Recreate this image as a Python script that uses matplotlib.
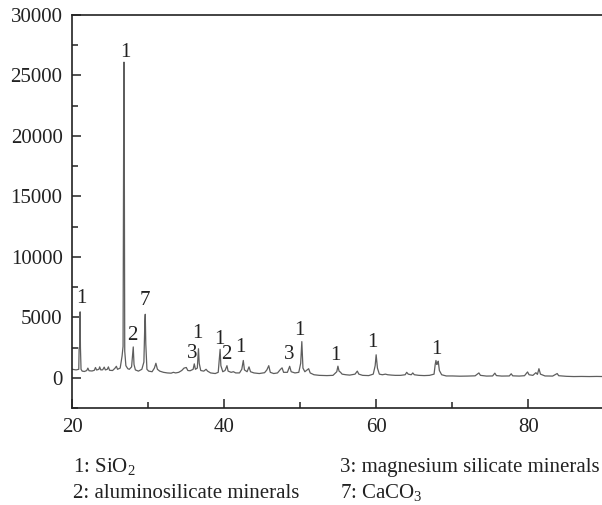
import matplotlib
matplotlib.use("Agg")
import matplotlib.pyplot as plt
from matplotlib.ticker import MultipleLocator

plt.rcParams['font.family'] = ['Liberation Serif', 'DejaVu Serif']
plt.rcParams['mathtext.fontset'] = 'custom'
plt.rcParams['mathtext.rm'] = 'Liberation Serif'
plt.rcParams['mathtext.it'] = 'Liberation Serif:italic'

# XRD pattern: 2-theta (deg) and intensity (counts)
two_theta = [
    20.0, 20.5, 20.85, 20.9, 20.98, 21.03, 21.07, 21.15, 21.3, 21.6, 21.9, 22.05, 22.2,
    22.6, 22.9, 23.05, 23.2, 23.5, 23.6, 23.75, 24.0, 24.2, 24.35, 24.6, 24.75, 24.9,
    25.3, 25.6, 25.8, 25.95, 26.3, 26.55, 26.68, 26.76, 26.8, 26.84, 26.9, 27.05, 27.3,
    27.5, 27.8, 28.02, 28.12, 28.3, 28.7, 29.15, 29.42, 29.55, 29.6, 29.67, 29.82, 30.05,
    30.5, 30.8, 31.0, 31.2, 31.5, 32.0, 32.5, 33.0, 33.3, 33.6, 34.0, 34.4, 34.7, 35.0,
    35.2, 35.5, 35.9, 36.05, 36.2, 36.45, 36.6, 36.7, 36.9, 37.3, 37.6, 37.8, 38.2,
    38.8, 39.2, 39.45, 39.55, 39.8, 40.1, 40.35, 40.5, 40.9, 41.2, 41.5, 42.0, 42.3,
    42.5, 42.65, 43.0, 43.25, 43.45, 43.9, 44.6, 45.3, 45.6, 45.85, 46.05, 46.5, 47.0,
    47.4, 47.6, 47.8, 48.3, 48.6, 48.8, 49.3, 49.8, 50.05, 50.2, 50.35, 50.6, 50.9,
    51.1, 51.3, 51.8, 52.5, 53.5, 54.3, 54.8, 54.95, 55.1, 55.3, 55.5, 56.0, 56.5,
    57.2, 57.5, 57.7, 58.2, 59.0, 59.6, 59.85, 59.98, 60.15, 60.4, 60.8, 61.2, 61.5,
    62.0, 62.5, 63.2, 63.8, 64.0, 64.2, 64.6, 64.8, 65.0, 65.6, 66.3, 67.0, 67.6,
    67.75, 67.85, 67.95, 68.05, 68.15, 68.3, 68.6, 69.2, 70.0, 71.0, 72.0, 73.0, 73.5,
    73.7, 74.5, 75.3, 75.6, 75.8, 76.5, 77.5, 77.75, 77.95, 78.8, 79.5, 79.9, 80.1,
    80.6, 81.0, 81.2, 81.4, 81.6, 82.2, 83.2, 83.8, 84.0, 85.0, 86.0, 87.0, 88.0,
    89.0, 90.0,
]
intensity = [
    700, 650, 700, 2500, 2500, 5450, 2500, 700, 550, 520, 600, 800, 580,
    560, 620, 850, 640, 700, 900, 650, 660, 880, 650, 700, 900, 620,
    600, 780, 950, 700, 800, 1800, 2600, 20800, 26100, 19600, 2200, 1000, 750,
    700, 900, 2550, 1100, 650, 550, 700, 1300, 4700, 5250, 2800, 700, 550,
    500, 800, 1200, 700, 550, 450, 400, 380, 450, 400, 450, 600, 800, 850,
    600, 580, 700, 1150, 700, 800, 2400, 1200, 600, 550, 700, 550, 400,
    350, 450, 2350, 1000, 500, 600, 1000, 550, 450, 500, 400, 400, 700,
    1430, 650, 500, 900, 500, 400, 350, 420, 650, 1000, 450, 350, 400,
    700, 820, 450, 450, 950, 500, 400, 450, 1200, 2990, 800, 500, 650,
    750, 400, 250, 200, 180, 200, 500, 960, 550, 450, 300, 250, 220,
    300, 550, 300, 200, 180, 300, 1000, 1900, 800, 300, 250, 300, 250,
    220, 200, 200, 250, 450, 300, 250, 400, 250, 200, 180, 200, 300,
    1100, 1430, 1100, 1150, 1370, 600, 250, 150, 150, 130, 140, 160, 400,
    200, 140, 150, 380, 180, 140, 150, 330, 160, 140, 170, 480, 250,
    200, 420, 280, 750, 300, 150, 140, 350, 170, 120, 100, 110, 100,
    110, 100,
]

# peak labels (phase index) with label positions
label_text = ['1', '1', '2', '7', '3', '1', '1', '2', '1', '3', '1', '1', '1', '1']
label_x = [21.15, 27.0, 27.95, 29.6, 35.75, 36.5, 39.4, 40.2, 42.15, 48.6, 49.85, 54.6, 59.5, 67.9]
label_y = [6550, 26860, 3480, 6380, 1990, 3670, 3150, 1900, 2510, 1900, 3950, 1820, 2930, 2320]

legend_lines = ["1: SiO$_{\\mathrm{2}}$", "2: aluminosilicate minerals",
                "3: magnesium silicate minerals", "7: CaCO$_{\\mathrm{3}}$"]

FS = 15
fig = plt.figure(figsize=(6.02, 5.05), dpi=100)
ax = fig.add_axes([72.3 / 602, 97 / 505, 532 / 602, 393 / 505])

ax.plot(two_theta, intensity, color='#5e5e5e', lw=0.9)

for t, x, y in zip(label_text, label_x, label_y):
    ax.text(x, y, t, ha='center', va='center', fontsize=FS, color='#222222')

ax.set_xlim(20, 90)
ax.set_ylim(-2500, 30000)
ax.xaxis.set_major_locator(MultipleLocator(20))
ax.xaxis.set_minor_locator(MultipleLocator(10))
ax.yaxis.set_major_locator(MultipleLocator(5000))
ax.yaxis.set_minor_locator(MultipleLocator(2500))
ax.tick_params(which='both', direction='in', width=1.1, colors='#222222',
               labelsize=FS, labelcolor='#222222')
ax.tick_params(which='major', length=6.5, pad=7)
ax.tick_params(which='minor', length=4)
ax.spines['right'].set_visible(False)
for s in ['left', 'top', 'bottom']:
    ax.spines[s].set_linewidth(1.2)
    ax.spines[s].set_color('#222222')

row1, row2 = 1 - 472 / 505, 1 - 498 / 505
fig.text(73 / 602, row1, legend_lines[0], fontsize=FS, va='baseline', ha='left', color='#222222')
fig.text(73 / 602, row2, legend_lines[1], fontsize=FS, va='baseline', ha='left', color='#222222')
fig.text(340 / 602, row1, legend_lines[2], fontsize=FS, va='baseline', ha='left', color='#222222')
fig.text(340 / 602, row2, legend_lines[3], fontsize=FS, va='baseline', ha='left', color='#222222')

fig.savefig('out.png', dpi=100)
